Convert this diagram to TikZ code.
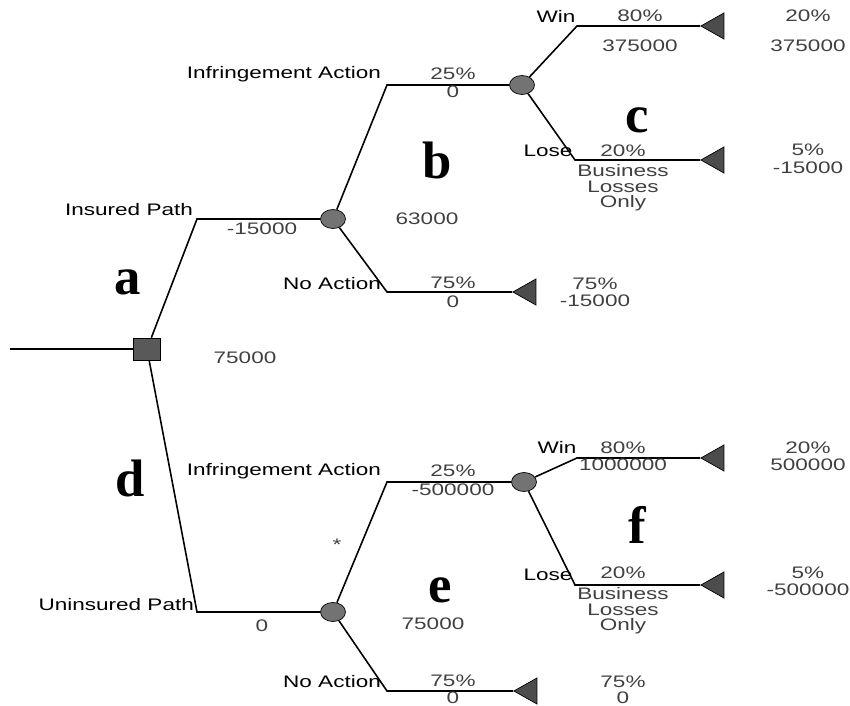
\documentclass[tikz,border=0pt]{standalone}
\usepackage{fontspec}
\newfontfamily\treefont[FakeStretch=1.35]{Liberation Sans}
\newfontfamily\tagfont{Liberation Serif}
\usetikzlibrary{shapes.geometric}

\begin{document}
\begin{tikzpicture}[x=0.02cm, y=-0.02cm,
    decision/.style={draw, fill=black!65, minimum width=0.54cm, minimum height=0.44cm, inner sep=0pt},
    chance/.style={draw, ellipse, fill=black!55, minimum width=0.5cm, minimum height=0.38cm, inner sep=0pt},
    term/.style={draw, isosceles triangle, shape border rotate=180, isosceles triangle stretches, fill=black!70, minimum width=0.52cm, minimum height=0.46cm, inner sep=0pt, anchor=apex},
    br/.style={line width=0.9pt},
    lbl/.style={font=\treefont\fontsize{9.5}{9}\selectfont, inner sep=1pt, align=center},
    val/.style={lbl, text=black!75},
    caseltr/.style={font=\tagfont\fontsize{30}{30}\selectfont\bfseries, inner sep=0pt}
]
\useasboundingbox (0,0) rectangle (850,706);

\node[decision] (D) at (147,349) {};
\node[chance] (CI) at (333,219) {};
\node[chance] (CIA) at (522,85) {};
\node[chance] (CU) at (333,612) {};
\node[chance] (CUA) at (524,482) {};
\node[term] (TIW) at (700,26) {};
\node[term] (TIL) at (700,160) {};
\node[term] (TIN) at (512,292) {};
\node[term] (TUW) at (700,458) {};
\node[term] (TUL) at (700,585) {};
\node[term] (TUN) at (513,691) {};

\coordinate (start) at (10,349);
\coordinate (kI) at (197,219);
\coordinate (kU) at (197,612);
\coordinate (kIA) at (387,85);
\coordinate (kIN) at (387,292);
\coordinate (kIW) at (577,26);
\coordinate (kIL) at (575,160);
\coordinate (kUA) at (387,482);
\coordinate (kUN) at (387,691);
\coordinate (kUW) at (577,458);
\coordinate (kUL) at (575,585);

\draw[br] (start) -- (D);
\draw[br] (D) -- (kI) -- (CI);
\draw[br] (D) -- (kU) -- (CU);
\draw[br] (CI) -- (kIA) -- (CIA);
\draw[br] (CI) -- (kIN) -- (TIN);
\draw[br] (CIA) -- (kIW) -- (TIW);
\draw[br] (CIA) -- (kIL) -- (TIL);
\draw[br] (CU) -- (kUA) -- (CUA);
\draw[br] (CU) -- (kUN) -- (TUN);
\draw[br] (CUA) -- (kUW) -- (TUW);
\draw[br] (CUA) -- (kUL) -- (TUL);

\node[caseltr] (la) at (128,282) {a};
\node[caseltr] (lb) at (437,160) {b};
\node[caseltr] (lc) at (637,120) {c};
\node[caseltr] (ld) at (130,478) {d};
\node[caseltr] (le) at (440,590) {e};
\node[caseltr] (lf) at (637,525) {f};

\node[lbl, anchor=east] (nIP) at (195,210) {Insured Path};
\node[val] (vIP) at (262,229) {-15000};
\node[val] (vD) at (245,358) {75000};
\node[val] (vCI) at (427,219) {63000};
\node[lbl, anchor=east] (nIA) at (383,74) {Infringement Action};
\node[val] (pIA) at (453,74) {25\%};
\node[val] (vIA) at (453,92) {0};
\node[lbl, anchor=east] (nIN) at (383,284) {No Action};
\node[val] (pIN) at (453,283) {75\%};
\node[val] (vIN) at (453,302) {0};
\node[val] (rpIN) at (595,284) {75\%};
\node[val] (rvIN) at (595,301) {-15000};
\node[lbl] (nIW) at (556,16) {Win};
\node[val] (pIW) at (640,16) {80\%};
\node[val] (vIW) at (640,46) {375000};
\node[val] (rpIW) at (808,16) {20\%};
\node[val] (rvIW) at (808,46) {375000};
\node[lbl] (nIL) at (548,151) {Lose};
\node[val] (pIL) at (623,151) {20\%};
\node[val, anchor=north] (vIL) at (623,162) {Business\\Losses\\Only};
\node[val] (rpIL) at (808,150) {5\%};
\node[val] (rvIL) at (808,168) {-15000};

\node[lbl, anchor=east] (nUP) at (196,605) {Uninsured Path};
\node[val] (vUP) at (262,626) {0};
\node[val] (vCU) at (433,624) {75000};
\node[val] (star) at (337,545) {*};
\node[lbl, anchor=east] (nUA) at (383,471) {Infringement Action};
\node[val] (pUA) at (453,471) {25\%};
\node[val] (vUA) at (453,490) {-500000};
\node[lbl, anchor=east] (nUN) at (383,682) {No Action};
\node[val] (pUN) at (453,681) {75\%};
\node[val] (vUN) at (453,698) {0};
\node[val] (rpUN) at (623,682) {75\%};
\node[val] (rvUN) at (623,698) {0};
\node[lbl] (nUW) at (557,447) {Win};
\node[val] (pUW) at (623,448) {80\%};
\node[val] (vUW) at (623,465) {1000000};
\node[val] (rpUW) at (808,448) {20\%};
\node[val] (rvUW) at (808,465) {500000};
\node[lbl] (nUL) at (548,575) {Lose};
\node[val] (pUL) at (623,573) {20\%};
\node[val, anchor=north] (vUL) at (623,585) {Business\\Losses\\Only};
\node[val] (rpUL) at (808,573) {5\%};
\node[val] (rvUL) at (808,590) {-500000};
\end{tikzpicture}
\end{document}
